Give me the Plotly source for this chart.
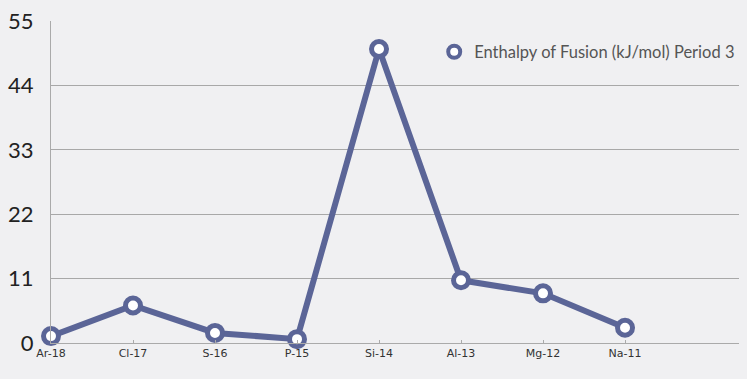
import plotly.graph_objects as go

categories = ["Ar-18", "Cl-17", "S-16", "P-15", "Si-14", "Al-13", "Mg-12", "Na-11"]
values = [1.18, 6.41, 1.72, 0.66, 50.21, 10.71, 8.48, 2.60]
y_ticks = [0, 11, 22, 33, 44, 55]
series_name = "Enthalpy of Fusion (kJ/mol) Period 3"

line_color = "#5b6597"
bg = "#f0f0f2"
xs = list(range(len(categories)))

fig = go.Figure()
fig.add_trace(go.Scatter(
    x=xs, y=values, name=series_name,
    mode="lines+markers",
    line=dict(color=line_color, width=6),
    marker=dict(size=15, color="white", line=dict(color=line_color, width=5)),
    cliponaxis=False, showlegend=False,
))
# legend entry (marker only)
fig.add_trace(go.Scatter(
    x=[None], y=[None], name=series_name, mode="markers",
    marker=dict(size=12, color="white", line=dict(color=line_color, width=4)),
    showlegend=True,
))

fig.update_layout(
    width=747, height=379,
    margin=dict(l=51, r=8, t=21, b=36, autoexpand=False),
    paper_bgcolor=bg,
    plot_bgcolor="rgba(0,0,0,0)",
    showlegend=True,
    legend=dict(x=0.557, y=0.958, xanchor="left", yanchor="top",
                bgcolor="rgba(0,0,0,0)",
                font=dict(family="Lato, Open Sans, sans-serif", size=16.5, color="#555555"),
                itemwidth=30),
    xaxis=dict(
        tickmode="array", tickvals=xs, ticktext=categories,
        range=[0, 8.39], showgrid=False, zeroline=False, automargin=False,
        showline=True, linecolor="#aaaaaa", linewidth=1,
        ticks="inside", ticklen=3, tickcolor="#aaaaaa",
        tickfont=dict(family="DejaVu Sans, sans-serif", size=11, color="#333333"),
    ),
    yaxis=dict(
        tickmode="array", tickvals=y_ticks, ticktext=[str(v) for v in y_ticks],
        range=[0, 55], showgrid=True, gridcolor="#a8a8a8", gridwidth=1,
        zeroline=False, showline=True, linecolor="#aaaaaa", linewidth=1,
        automargin=False, ticklabelstandoff=12,
        tickfont=dict(family="Lato, Open Sans, sans-serif", size=22, color="#222222"),
    ),
)

fig.write_html(
    "out.html",
    config={"displayModeBar": False},
    post_script="document.body.style.margin='0';document.body.style.background='%s';" % bg,
)
